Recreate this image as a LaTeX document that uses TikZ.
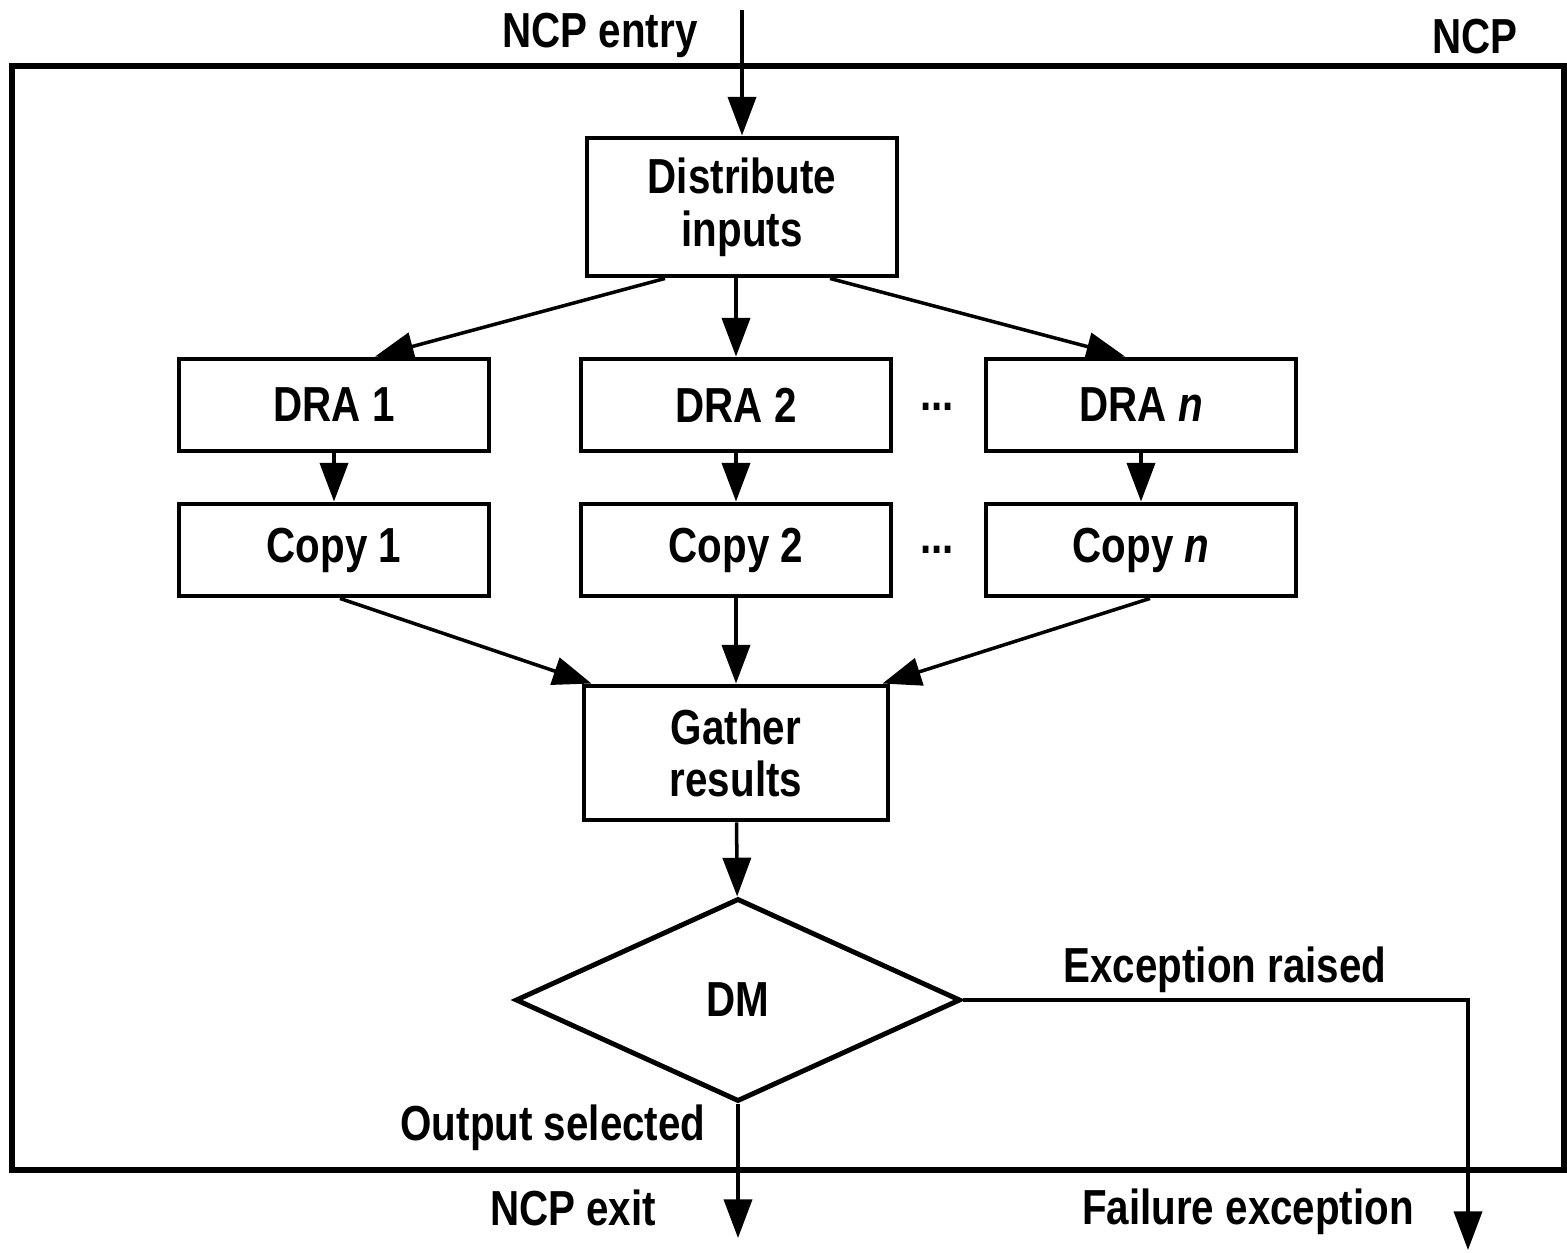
\documentclass[tikz,border=0pt]{standalone}
\usepackage{fontspec}
\setmainfont{Liberation Sans}[FakeStretch=0.82]
\usepackage{tikz}
\usetikzlibrary{arrows.meta,shapes.geometric}

\begin{document}
\begin{tikzpicture}[scale=1,
box/.style={draw, line width=1.4pt, minimum width=3.1cm, minimum height=0.92cm, inner sep=0pt, align=center, font=\bfseries\fontsize{14}{15}\selectfont},
flow/.style={line width=1pt, -{Triangle[length=11pt,width=8pt]}},
lbl/.style={font=\bfseries\fontsize{14}{15}\selectfont}]

\useasboundingbox (0,0) rectangle (15.67,12.52);

\draw[line width=1.7pt] (0.12,0.82) rectangle (15.64,11.86);

\node[box, minimum height=1.38cm] (dist) at (7.42,10.45) {Distribute\\inputs};

\foreach \i/\x/\t in {1/3.34/1, 2/7.36/2, n/11.41/\textit{n}}
{
\node[box] (dra\i) at (\x,8.47) {DRA \t};
\node[box] (copy\i) at (\x,7.02) {Copy \t};
\draw[flow] (dra\i) -- (copy\i);
}

\node[lbl] (dots1) at (9.37,8.45) {...};
\node[lbl] (dots2) at (9.37,7.02) {...};

\node[box, minimum width=3.04cm, minimum height=1.34cm] (gather) at (7.36,4.99) {Gather\\results};
\node[draw, diamond, line width=1.4pt, minimum width=4.45cm, minimum height=2.03cm, inner sep=0pt, lbl] (dm) at (7.38,2.52) {DM};

\coordinate (entry) at (7.42,12.42);
\coordinate (exit) at (7.38,0.14);
\coordinate (fail) at (14.68,0.02);

\draw[flow] (entry) -- (dist);
\draw[flow] ([xshift=-0.77cm]dist.south) -- ([xshift=0.41cm]dra1.north);
\draw[flow] (dist.south -| dra2) -- (dra2);
\draw[flow] ([xshift=0.88cm]dist.south) -- ([xshift=-0.16cm]dran.north);

\draw[flow] ([xshift=0.06cm]copy1.south) -- ([xshift=0.1cm]gather.north west);
\draw[flow] (copy2) -- (gather);
\draw[flow] ([xshift=0.09cm]copyn.south) -- ([xshift=-0.08cm]gather.north east);

\draw[flow] (gather) -- (dm);
\draw[flow] (dm.south) -- (exit);
\draw[flow] (dm.east) -| (fail);

\node[lbl] (entrytxt) at (6.0,12.17) {NCP entry};
\node[lbl] (ncptxt) at (14.75,12.15) {NCP};
\node[lbl] (raised) at (12.25,2.82) {Exception raised};
\node[lbl] (selected) at (5.53,1.24) {Output selected};
\node[lbl] (exittxt) at (5.73,0.44) {NCP exit};
\node[lbl] (failtxt) at (12.48,0.40) {Failure exception};
\end{tikzpicture}
\end{document}
